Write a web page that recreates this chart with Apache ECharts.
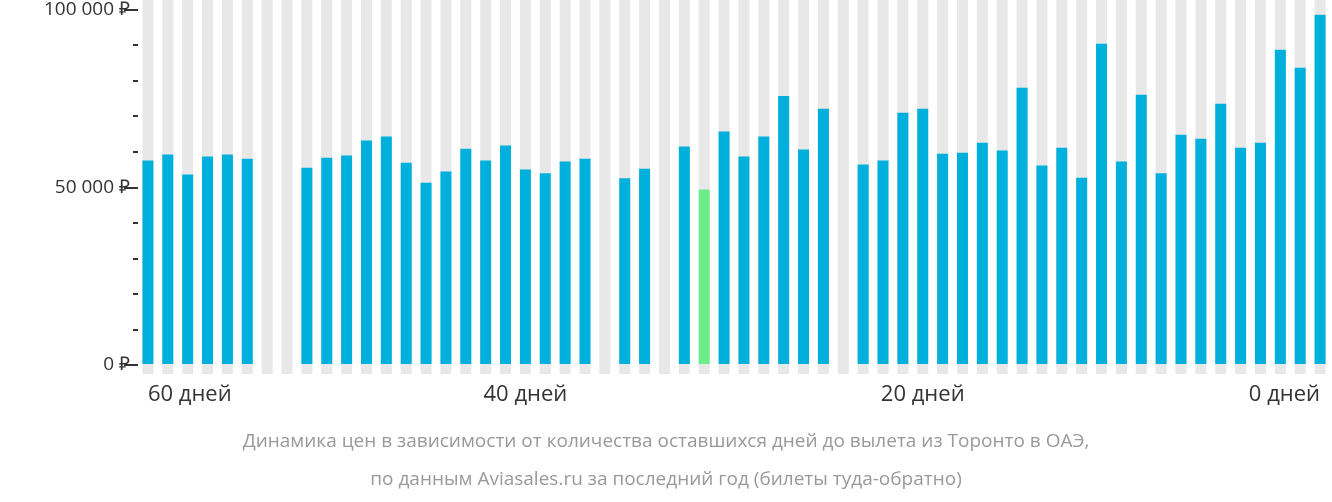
<!DOCTYPE html>
<html>
<head>
<meta charset="utf-8">
<script src="https://cdn.jsdelivr.net/npm/echarts@6/dist/echarts.min.js"></script>
<style>html,body{margin:0;padding:0;background:#fff}#chart{width:1332px;height:502px}</style>
</head>
<body>
<div id="chart"></div>
<script>
var dom = document.getElementById("chart");
var myChart = echarts.init(dom);
var option;

// days before departure, 59..0
var days = [];
for (var d = 59; d >= 0; d--) days.push(d);
var prices = [57000, 58700, 53100, 58100, 58700, 57500, null, null, 55000, 57800,
    58400, 62600, 63700, 56400, 50800, 53900, 60300, 57000, 61200, 54500,
    53400, 56700, 57500, null, 52000, 54700, null, 60900, 48900, 65100,
    58100, 63700, 75100, 60100, 71500, null, 55900, 57000, 70400, 71500,
    58900, 59200, 62000, 59800, 77400, 55600, 60600, 52200, 89700, 56700,
    75400, 53400, 64200, 63100, 72900, 60600, 62000, 88000, 83000, 97800];
var cheapestIndex = 28;
var axisLabels = {0: '60 дней', 19: '40 дней', 39: '20 дней', 59: '0 дней'};

option = {
    animation: false,
    grid: [
        {left: 138, right: 2, top: 8, height: 357},
        {left: 138, right: 2, top: 0, height: 374}
    ],
    xAxis: [
        {gridIndex: 0, type: 'category', data: days, show: false},
        {
            gridIndex: 1, type: 'category', data: days,
            axisLine: {show: false}, axisTick: {show: false},
            axisLabel: {
                interval: 0, margin: 10,
                fontFamily: 'Open Sans', fontSize: 22, color: '#333',
                alignMinLabel: 'left', alignMaxLabel: 'right',
                formatter: function (v, i) { return axisLabels[i] || ''; }
            }
        }
    ],
    yAxis: [
        {
            gridIndex: 0, type: 'value', min: 0, max: 100000, interval: 50000,
            axisLine: {show: false},
            axisTick: {show: true, length: 14, lineStyle: {color: '#333', width: 2}},
            minorTick: {show: true, splitNumber: 5, length: 5, lineStyle: {color: '#333', width: 2}},
            splitLine: {show: false},
            axisLabel: {
                margin: 8, fontFamily: 'Open Sans', fontSize: 19, color: '#333',
                formatter: function (v) { return (v === 0 ? '0' : String(v / 1000) + ' 000') + ' ₽'; }
            }
        },
        {gridIndex: 1, type: 'value', min: -2793, max: 101955, show: false}
    ],
    graphic: [
        {type: 'text', left: 'center', top: 432, style: {text: 'Динамика цен в зависимости от количества оставшихся дней до вылета из Торонто в ОАЭ,', fontFamily: 'Open Sans', fontSize: 19, fill: '#999'}},
        {type: 'text', left: 'center', top: 470, style: {text: 'по данным Aviasales.ru за последний год (билеты туда-обратно)', fontFamily: 'Open Sans', fontSize: 19, fill: '#999'}}
    ],
    series: [{
        type: 'bar',
        xAxisIndex: 1, yAxisIndex: 1,
        barWidth: 11,
        showBackground: true,
        backgroundStyle: {color: '#e8e8e8'},
        data: prices.map(function (v, i) {
            return {value: v, itemStyle: {color: i === cheapestIndex ? '#6ded8a' : '#00b0dc'}};
        })
    }]
};

myChart.setOption(option);
</script>
</body>
</html>
